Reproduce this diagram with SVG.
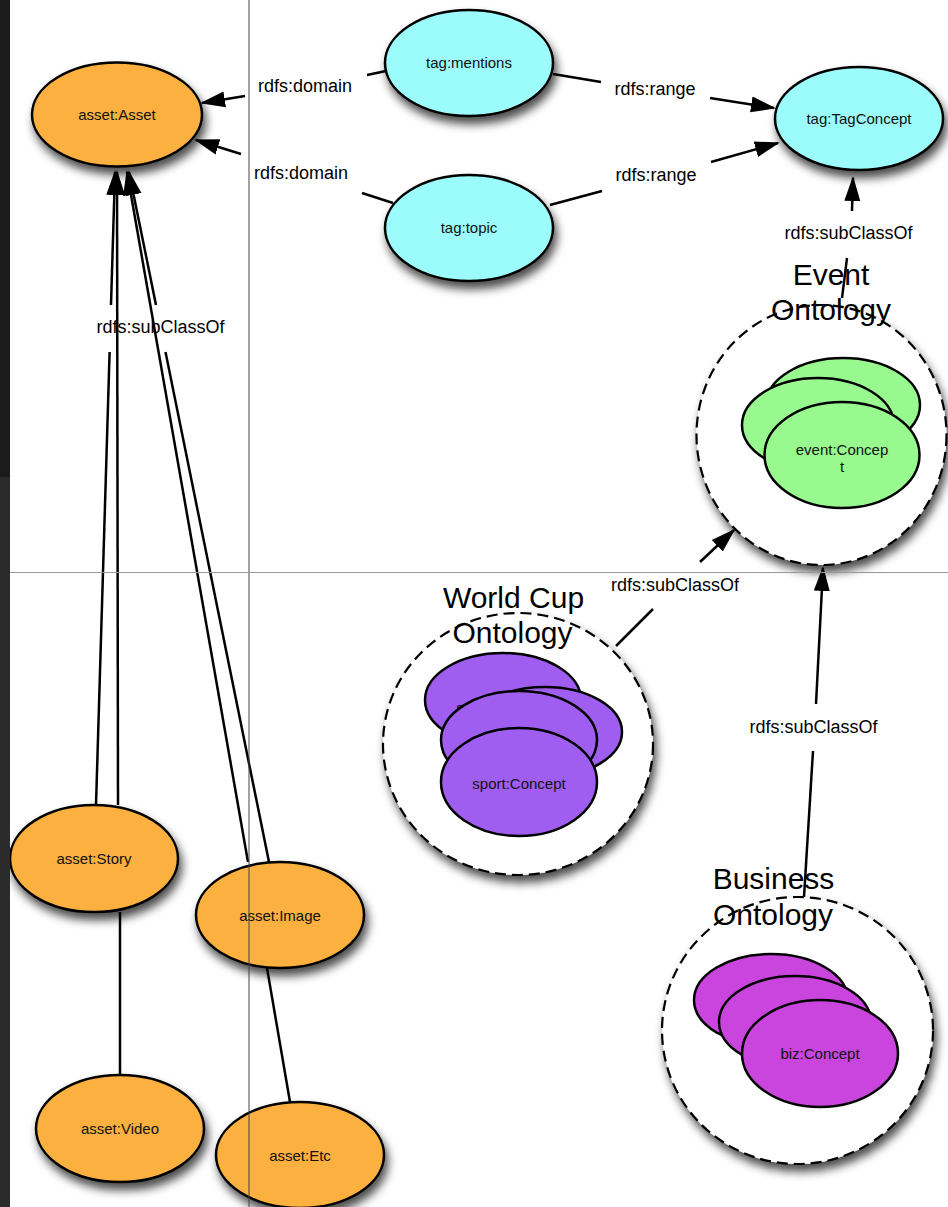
<svg xmlns="http://www.w3.org/2000/svg" width="948" height="1207" viewBox="0 0 948 1207">
<defs>
<filter id="sh" x="-20%" y="-20%" width="150%" height="160%">
<feDropShadow dx="3" dy="7" stdDeviation="5" flood-color="#000" flood-opacity="0.7"/>
</filter>
<marker id="ah" markerUnits="userSpaceOnUse" markerWidth="26" markerHeight="18" refX="23" refY="9" orient="auto">
<path d="M0,1 L25,9 L0,17 z" fill="#000"/>
</marker>
<style>
.n{stroke:#000;stroke-width:2.5}
.orange{fill:#FBB03F}
.cyan{fill:#9CFCFB}
.green{fill:#98F98E}
.sport{fill:#A05EF1}
.biz{fill:#CA45DD}
.ont{fill:#fff;stroke:#000;stroke-width:2.2;stroke-dasharray:11 6}
.t{font-family:"Liberation Sans",Arial,sans-serif;font-size:15px;fill:#111;text-anchor:middle}
.lbl{font-family:"Liberation Sans",Arial,sans-serif;font-size:18px;fill:#000;text-anchor:middle}
.ttl{font-family:"Liberation Sans",Arial,sans-serif;font-size:30px;fill:#000;text-anchor:middle}
.c line{stroke:#000;stroke-width:2.5;fill:none}
.m{marker-end:url(#ah)}
</style>
</defs>
<rect width="948" height="1207" fill="#fff"/>

<g id="ont-event">
<ellipse class="ont" cx="821.5" cy="435" rx="125" ry="130" filter="url(#sh)"/>
<ellipse class="n green" cx="843" cy="405" rx="77" ry="47"/>
<ellipse class="n green" cx="818" cy="425" rx="76" ry="47"/>
<ellipse class="n green" cx="842" cy="455" rx="77.5" ry="53"/>
<text class="t" x="842" y="455">event:Concep</text>
<text class="t" x="842" y="472">t</text>
<text class="ttl" x="831" y="285">Event</text>
<text class="ttl" x="831" y="320">Ontology</text>
</g>

<g id="ont-worldcup">
<ellipse class="ont" cx="518" cy="744" rx="135" ry="131" filter="url(#sh)"/>
<ellipse class="n sport" cx="503" cy="700" rx="78" ry="47"/>
<text class="t" x="503" y="713">sport:Concept</text>
<ellipse class="n sport" cx="545" cy="732" rx="77" ry="45"/>
<ellipse class="n sport" cx="519" cy="740" rx="78" ry="49"/>
<ellipse class="n sport" cx="519" cy="782" rx="78" ry="54"/>
<text class="t" x="519" y="789">sport:Concept</text>
<text class="ttl" x="513.5" y="608">World Cup</text>
<text class="ttl" x="512.5" y="643">Ontology</text>
</g>

<g id="ont-business">
<ellipse class="ont" cx="797.5" cy="1030.5" rx="135.5" ry="133.5" filter="url(#sh)"/>
<ellipse class="n biz" cx="771" cy="1000" rx="77" ry="46"/>
<ellipse class="n biz" cx="795" cy="1022" rx="76" ry="46"/>
<ellipse class="n biz" cx="820" cy="1053.5" rx="78" ry="53.5"/>
<text class="t" x="820" y="1059">biz:Concept</text>
<text class="ttl" x="773.5" y="889">Business</text>
<text class="ttl" x="773" y="925">Ontology</text>
</g>

<g id="asset-asset"><ellipse class="n orange" cx="117" cy="114.5" rx="85" ry="52" filter="url(#sh)"/><text class="t" x="117" y="120">asset:Asset</text></g>
<g id="tag-mentions"><ellipse class="n cyan" cx="469" cy="63" rx="84" ry="53" filter="url(#sh)"/><text class="t" x="469" y="68">tag:mentions</text></g>
<g id="tag-topic"><ellipse class="n cyan" cx="469" cy="228" rx="84" ry="53" filter="url(#sh)"/><text class="t" x="469" y="233">tag:topic</text></g>
<g id="tag-tagconcept"><ellipse class="n cyan" cx="859" cy="118.5" rx="84" ry="51.5" filter="url(#sh)"/><text class="t" x="859" y="124">tag:TagConcept</text></g>
<g id="asset-story"><ellipse class="n orange" cx="94" cy="858.5" rx="84" ry="53.5" filter="url(#sh)"/><text class="t" x="94" y="864">asset:Story</text></g>
<g id="asset-image"><ellipse class="n orange" cx="280" cy="915" rx="84" ry="53" filter="url(#sh)"/><text class="t" x="280" y="921">asset:Image</text></g>
<g id="asset-video"><ellipse class="n orange" cx="120" cy="1128.5" rx="84" ry="53.5" filter="url(#sh)"/><text class="t" x="120" y="1134">asset:Video</text></g>
<g id="asset-etc"><ellipse class="n orange" cx="300" cy="1155" rx="84" ry="53" filter="url(#sh)"/><text class="t" x="300" y="1161">asset:Etc</text></g>

<g id="connectors" class="c">
<line x1="386" y1="71" x2="367" y2="75"/>
<line class="m" x1="245" y1="96" x2="202" y2="103"/>
<text class="lbl" x="305" y="92">rdfs:domain</text>

<line x1="393" y1="203" x2="362" y2="193"/>
<line class="m" x1="241" y1="154" x2="196" y2="140"/>
<text class="lbl" x="301" y="179">rdfs:domain</text>

<line x1="553" y1="74" x2="601" y2="82"/>
<line class="m" x1="710" y1="98" x2="774" y2="108"/>
<text class="lbl" x="655" y="95">rdfs:range</text>

<line x1="550" y1="205" x2="602" y2="191"/>
<line class="m" x1="711" y1="162" x2="778" y2="143"/>
<text class="lbl" x="656" y="181">rdfs:range</text>

<line x1="842" y1="298" x2="847" y2="258"/>
<line class="m" x1="852" y1="211" x2="853" y2="178"/>
<text class="lbl" x="848.5" y="239">rdfs:subClassOf</text>

<line x1="616" y1="646" x2="653" y2="609"/>
<line class="m" x1="700" y1="562" x2="734" y2="530"/>
<text class="lbl" x="675" y="591">rdfs:subClassOf</text>

<line x1="804" y1="897" x2="813" y2="751"/>
<line class="m" x1="816" y1="704" x2="823" y2="568"/>
<text class="lbl" x="813.5" y="733">rdfs:subClassOf</text>

<line x1="96" y1="805" x2="109.6" y2="352"/>
<line class="m" x1="111" y1="305" x2="115" y2="172"/>
<line class="m" x1="118" y1="805" x2="117" y2="172"/>
<line class="m" x1="248" y1="862" x2="127" y2="172"/>
<line x1="269" y1="862" x2="165.5" y2="352"/>
<line class="m" x1="156" y1="305" x2="129" y2="172"/>
<text class="lbl" x="160.5" y="333">rdfs:subClassOf</text>

<line x1="120" y1="912" x2="120" y2="1075"/>
<line x1="267" y1="968" x2="290" y2="1102"/>
</g>

<g id="grid">
<line x1="249" y1="0" x2="249" y2="1207" stroke="#444" stroke-width="1"/>
<line x1="10" y1="572.5" x2="948" y2="572.5" stroke="#999" stroke-width="1"/>
<rect x="0" y="0" width="10" height="477" fill="#1b1b1b"/>
<rect x="0" y="477" width="10" height="730" fill="#2b2b2b"/>
</g>
</svg>
